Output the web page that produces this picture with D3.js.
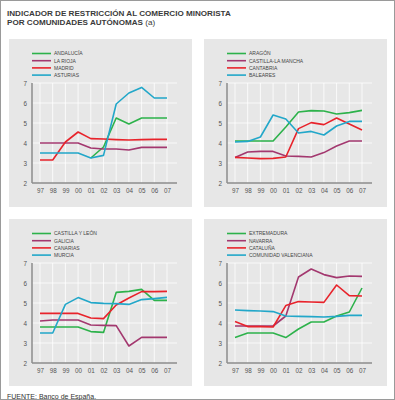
<!DOCTYPE html>
<html>
<head>
<meta charset="utf-8">
<script src="https://cdn.jsdelivr.net/npm/d3@7"></script>
<style>
  html, body { margin: 0; padding: 0; background: #fff; }
  svg { display: block; font-family: "Liberation Sans", Arial, sans-serif; }
</style>
</head>
<body>
<svg id="chart" width="395" height="400"></svg>
<script>
const years = ["97","98","99","00","01","02","03","04","05","06","07"];
const yTicks = [2, 3, 4, 5, 6, 7];
const titleLines = ["INDICADOR DE RESTRICCIÓN AL COMERCIO MINORISTA", "POR COMUNIDADES AUTÓNOMAS"];
const titleNote = "(a)";
const sourceText = "FUENTE: Banco de España.";

// Panel 1
const panel1Names = ["ANDALUCÍA", "LA RIOJA", "MADRID", "ASTURIAS"];
const andalucia = [null, null, null, null, 3.25, 3.8, 5.25, 4.95, 5.25, 5.25, 5.25];
const laRioja   = [4.0, 4.0, 4.0, 4.0, 3.75, 3.7, 3.7, 3.65, 3.78, 3.78, 3.78];
const madrid    = [3.15, 3.15, 4.05, 4.55, 4.22, 4.2, 4.17, 4.15, 4.17, 4.18, 4.18];
const asturias  = [3.5, 3.5, 3.5, 3.5, 3.25, 3.38, 5.95, 6.5, 6.78, 6.25, 6.25];

// Panel 2
const panel2Names = ["ARAGÓN", "CASTILLA-LA MANCHA", "CANTABRIA", "BALEARES"];
const aragon     = [4.1, 4.1, 4.1, 4.1, 4.8, 5.55, 5.62, 5.6, 5.45, 5.52, 5.63];
const castillaLM = [3.28, 3.55, 3.58, 3.58, 3.35, 3.33, 3.3, 3.52, 3.85, 4.1, 4.1];
const cantabria  = [3.28, 3.25, 3.22, 3.23, 3.3, 4.72, 5.02, 4.92, 5.25, 4.95, 4.65];
const baleares   = [4.05, 4.08, 4.3, 5.4, 5.2, 4.5, 4.58, 4.4, 4.85, 5.08, 5.08];

// Panel 3
const panel3Names = ["CASTILLA Y LEÓN", "GALICIA", "CANARIAS", "MURCIA"];
const castillaLeon = [3.8, 3.8, 3.8, 3.8, 3.57, 3.53, 5.53, 5.58, 5.68, 5.13, 5.13];
const galicia      = [4.1, 4.15, 4.15, 4.15, 3.9, 3.88, 3.87, 2.85, 3.28, 3.28, 3.28];
const canarias     = [4.48, 4.48, 4.48, 4.48, 4.25, 4.22, 4.9, 5.25, 5.57, 5.57, 5.58];
const murcia       = [3.5, 3.5, 4.93, 5.27, 5.02, 4.98, 4.97, 4.93, 5.17, 5.22, 5.28];

// Panel 4
const panel4Names = ["EXTREMADURA", "NAVARRA", "CATALUÑA", "COMUNIDAD VALENCIANA"];
const extremadura = [3.28, 3.5, 3.5, 3.5, 3.27, 3.7, 4.05, 4.05, 4.35, 4.55, 5.75];
const navarra     = [3.85, 3.85, 3.85, 3.85, 4.35, 6.3, 6.7, 6.42, 6.27, 6.35, 6.33];
const cataluna    = [4.08, 3.82, 3.82, 3.8, 4.87, 5.07, 5.05, 5.03, 5.9, 5.37, 5.35];
const valenciana  = [4.65, 4.62, 4.6, 4.57, 4.35, 4.33, 4.32, 4.3, 4.33, 4.38, 4.38];

const colors = ["#2db24b", "#a3386f", "#e8232b", "#22a7c9"];

const panels = [
  { names: panel1Names, series: [andalucia, laRioja, madrid, asturias], ox: 0,   oy: 0,   bgH: 168 },
  { names: panel2Names, series: [aragon, castillaLM, cantabria, baleares], ox: 195, oy: 0,   bgH: 168 },
  { names: panel3Names, series: [castillaLeon, galicia, canarias, murcia], ox: 0,   oy: 180, bgH: 167 },
  { names: panel4Names, series: [extremadura, navarra, cataluna, valenciana], ox: 195, oy: 180, bgH: 167 }
];

const svg = d3.select("#chart");

// outer frame
svg.append("rect").attr("x", 0.5).attr("y", 0.5).attr("width", 394).attr("height", 399)
  .attr("fill", "none").attr("stroke", "#9a9a9a").attr("stroke-width", 1);

// title
const tt = svg.append("g").selectAll("text").data(titleLines).join("text")
  .attr("x", 7).attr("y", (d, i) => 15.6 + i * 9.3)
  .attr("font-size", 8.1).attr("fill", "#3a3a3a");
tt.append("tspan").attr("font-weight", "bold").text(d => d);
tt.filter((d, i) => i === 1).append("tspan").attr("font-weight", "normal").text(" " + titleNote);

// source
svg.append("text").attr("x", 7).attr("y", 398.5)
  .attr("font-size", 7).attr("fill", "#333").text(sourceText);

panels.forEach(p => {
  const g = svg.append("g").attr("transform", `translate(${p.ox},${p.oy})`);
  const axisX = 32, yTop = 83, yBot = 183, axisEnd = 177;

  g.append("rect").attr("x", 9).attr("y", 39).attr("width", 183).attr("height", p.bgH)
    .attr("fill", "#e7e7e7");

  const x = d3.scalePoint().domain(years).range([40, 167]);
  const y = d3.scaleLinear().domain([2, 7]).range([yBot, yTop]);

  // grid
  g.append("g").selectAll("line.v").data(years).join("line")
    .attr("x1", d => x(d)).attr("x2", d => x(d))
    .attr("y1", y(7)).attr("y2", y(2))
    .attr("stroke", "#fff").attr("stroke-width", 0.8);
  g.append("g").selectAll("line.h").data(yTicks.slice(1)).join("line")
    .attr("x1", axisX).attr("x2", axisEnd)
    .attr("y1", d => y(d)).attr("y2", d => y(d))
    .attr("stroke", "#fff").attr("stroke-width", 0.8);

  // axes
  const yAxis = d3.axisLeft(y).tickValues(yTicks).tickSize(0).tickPadding(5).tickFormat(d3.format("d"));
  const ya = g.append("g").attr("transform", `translate(${axisX},0)`).call(yAxis);
  ya.select(".domain").remove();
  ya.selectAll("text").attr("font-size", 6.3).attr("fill", "#555").attr("font-family", "Liberation Sans, Arial, sans-serif");

  const xAxis = d3.axisBottom(x).tickSize(0).tickPadding(6);
  const xa = g.append("g").attr("transform", `translate(0,${yBot})`).call(xAxis);
  xa.select(".domain").remove();
  xa.selectAll("text").attr("font-size", 6.3).attr("fill", "#555").attr("font-family", "Liberation Sans, Arial, sans-serif");

  g.append("line").attr("x1", axisX).attr("x2", axisX).attr("y1", yTop).attr("y2", yBot)
    .attr("stroke", "#8c8c8c").attr("stroke-width", 1.5);
  g.append("line").attr("x1", axisX).attr("x2", axisEnd).attr("y1", yBot).attr("y2", yBot)
    .attr("stroke", "#8c8c8c").attr("stroke-width", 1.5);

  // lines
  const line = d3.line()
    .defined(d => d != null)
    .x((d, i) => x(years[i]))
    .y(d => y(d));
  p.series.forEach((s, k) => {
    g.append("path").datum(s).attr("d", line)
      .attr("fill", "none").attr("stroke", colors[k]).attr("stroke-width", 1.6)
      .attr("stroke-linejoin", "round");
  });

  // legend
  const lg = g.append("g");
  p.names.forEach((n, k) => {
    const ly = 53.5 + k * 7.2;
    lg.append("line").attr("x1", axisX).attr("x2", axisX + 19).attr("y1", ly).attr("y2", ly)
      .attr("stroke", colors[k]).attr("stroke-width", 1.6);
    lg.append("text").attr("x", axisX + 22).attr("y", ly + 1.8)
      .attr("font-size", 5).attr("fill", "#444").text(n);
  });
});
</script>
</body>
</html>
